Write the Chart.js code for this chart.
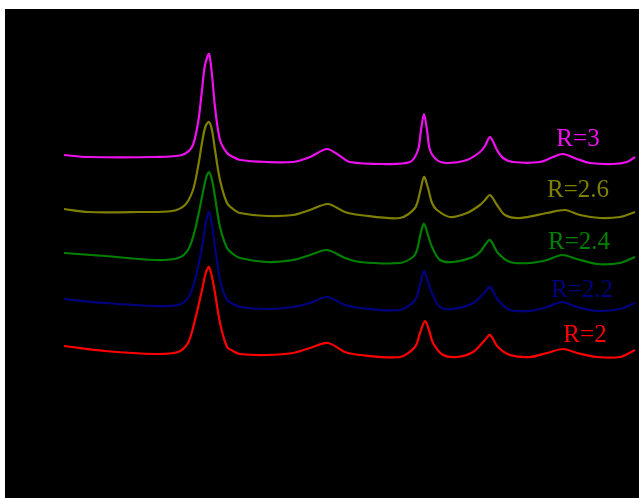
<!DOCTYPE html>
<html>
<head>
<meta charset="utf-8">
<script src="https://cdn.jsdelivr.net/npm/chart.js@4.4.1/dist/chart.umd.min.js"></script>
<style>
  body { margin: 0; background: #fff; }
  #wrap { position: absolute; left: 5px; top: 9px; width: 634px; height: 489px; background: #000; }
</style>
</head>
<body>
<div id="wrap"><canvas id="spectraChart"></canvas></div>
<script>

// shift values (x) and intensities (a.u.)
var shiftR3 = [64,88,155,182,192,198,202,205,209,212,215,220,227,233,240,267,293,310,327,340,350,383,410,418,421,424,427,430,437,447,467,480,485,490,497,503,513,540,553,563,577,590,613,627,635];
var intR3 = [343,341,341,343,351,375,408,433,444,423,391,358,345,341,338,336,336,341,349,342,336,334,336,348,368,384,368,348,338,335,338,346,352,361,348,340,336,336,341,344,339,335,334,336,341];

var shiftR26 = [64,88,138,172,185,193,198,203,206,209,212,215,220,227,233,240,267,293,310,328,345,360,400,415,420,424,428,432,437,450,467,480,485,490,497,505,520,547,565,580,600,620,635];
var intR26 = [289,286,286,287,293,308,331,361,373,376,368,348,318,295,289,285,282,283,288,294,286,283,280,290,306,321,310,295,288,281,285,293,298,303,293,283,280,285,288,283,280,281,286];

var shiftR24 = [64,105,155,178,188,195,202,206,209,212,215,220,227,233,240,267,293,310,327,345,360,400,413,417,421,424,428,432,440,453,473,480,485,490,498,510,530,547,562,577,597,620,635];
var intR24 = [245,242,238,240,248,268,301,320,326,318,301,271,250,244,240,236,238,243,248,240,236,235,241,248,266,274,263,251,238,236,241,246,253,258,245,236,235,238,243,239,234,235,241];

var shiftR22 = [64,105,155,178,188,195,202,206,209,212,215,220,227,233,240,267,293,310,327,345,360,400,415,420,424,428,432,440,453,473,485,490,498,510,530,547,562,577,597,620,635];
var intR22 = [199,195,192,193,200,218,251,276,286,273,251,218,198,194,191,189,191,195,201,193,190,188,198,213,227,216,205,191,189,195,206,211,198,188,187,191,196,191,187,189,195];

var shiftR2 = [64,105,155,178,188,195,202,206,209,212,215,220,227,233,240,267,293,310,328,345,360,400,415,420,425,429,433,443,457,473,485,490,498,510,530,547,563,577,597,620,635];
var intR2 = [152,147,144,146,155,178,208,226,231,221,205,175,151,147,144,143,145,150,155,146,143,141,151,165,177,168,155,143,141,146,158,163,151,143,141,145,149,145,141,141,148];

var seriesNames = ['R=3', 'R=2.6', 'R=2.4', 'R=2.2', 'R=2'];
var seriesColors = ['#ee10ee', '#808000', '#008000', '#000080', '#ff0000'];

function toPoints(xs, ys) {
  var pts = [];
  for (var i = 0; i < xs.length; i++) pts.push({x: xs[i], y: ys[i]});
  return pts;
}

var allData = [
  toPoints(shiftR3, intR3),
  toPoints(shiftR26, intR26),
  toPoints(shiftR24, intR24),
  toPoints(shiftR22, intR22),
  toPoints(shiftR2, intR2)
];

// where the R labels sit, in axis units
var labelSpots = [
  {x: 578, y: 359},
  {x: 578, y: 308},
  {x: 579, y: 256},
  {x: 582, y: 208},
  {x: 585, y: 163}
];

var seriesLabels = {
  id: 'seriesLabels',
  afterDatasetsDraw: function(chart) {
    var ctx = chart.ctx;
    var xs = chart.scales.x, ys = chart.scales.y;
    ctx.save();
    ctx.font = '25px "Liberation Serif"';
    ctx.textAlign = 'center';
    ctx.textBaseline = 'middle';
    for (var i = 0; i < seriesNames.length; i++) {
      ctx.fillStyle = seriesColors[i];
      ctx.fillText(seriesNames[i], xs.getPixelForValue(labelSpots[i].x), ys.getPixelForValue(labelSpots[i].y));
    }
    ctx.restore();
  }
};

var datasets = [];
for (var i = 0; i < seriesNames.length; i++) {
  datasets.push({
    label: seriesNames[i],
    data: allData[i],
    borderColor: seriesColors[i],
    borderWidth: 2.2,
    pointRadius: 0,
    fill: false,
    tension: 0.3
  });
}

new Chart("spectraChart", {
  type: "line",
  data: { datasets: datasets },
  plugins: [seriesLabels],
  options: {
    responsive: true,
    maintainAspectRatio: false,
    animation: false,
    layout: { padding: 0 },
    plugins: { legend: {display: false}, tooltip: {enabled: false} },
    scales: {
      x: { type: 'linear', min: 5, max: 639, display: false },
      y: { type: 'linear', min: 0, max: 489, display: false }
    }
  }
});
</script>
</body>
</html>
